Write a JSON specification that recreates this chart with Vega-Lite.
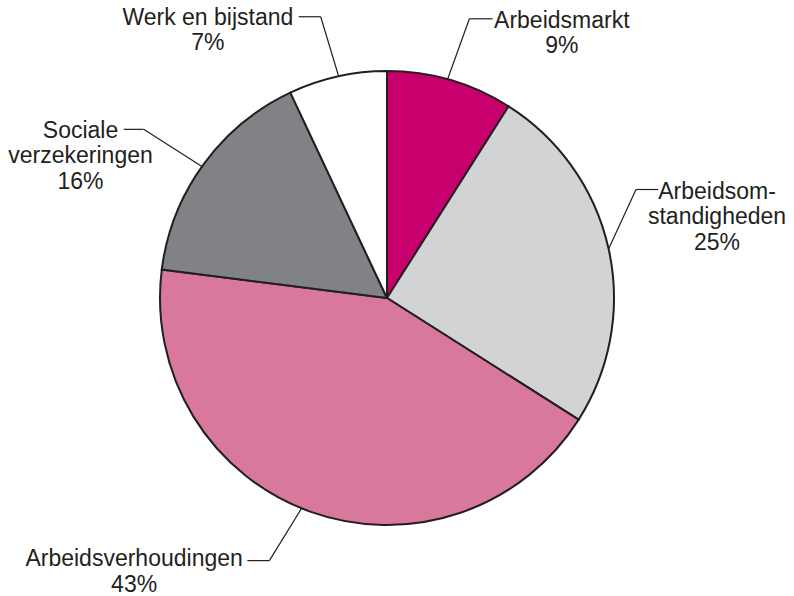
{
  "$schema": "https://vega.github.io/schema/vega-lite/v6.json",
  "width": 794,
  "height": 596,
  "autosize": "none",
  "padding": 0,
  "background": "white",
  "config": {"view": {"stroke": null}},
  "data": {
    "values": [
      {"category": "Arbeidsmarkt", "name": "Arbeidsmarkt", "share": 9, "order": 1, "lx": 0.770, "ly": 1.222, "endX": 0.465, "elbowX": 0.363, "hy": 1.230, "edgeX": 0.267, "edgeY": 0.964},
      {"category": "Arbeidsomstandigheden", "name": "Arbeidsom-\nstandigheden", "share": 25, "order": 2, "lx": 1.454, "ly": 0.467, "endX": 1.195, "elbowX": 1.097, "hy": 0.478, "edgeX": 0.976, "edgeY": 0.216},
      {"category": "Arbeidsverhoudingen", "name": "Arbeidsverhoudingen", "share": 43, "order": 3, "lx": -1.114, "ly": -1.150, "endX": -0.615, "elbowX": -0.518, "hy": -1.157, "edgeX": -0.376, "edgeY": -0.926},
      {"category": "Sociale verzekeringen", "name": "Sociale\nverzekeringen", "share": 16, "order": 4, "lx": -1.350, "ly": 0.737, "endX": -1.160, "elbowX": -1.072, "hy": 0.743, "edgeX": -0.815, "edgeY": 0.579},
      {"category": "Werk en bijstand", "name": "Werk en bijstand", "share": 7, "order": 5, "lx": -0.789, "ly": 1.234, "endX": -0.389, "elbowX": -0.292, "hy": 1.239, "edgeX": -0.213, "edgeY": 0.977}
    ]
  },
  "layer": [
    {
      "mark": {"type": "arc", "outerRadius": 227, "stroke": "#231f20", "strokeWidth": 2},
      "encoding": {
        "x": {"datum": 0, "type": "quantitative", "scale": {"domain": [-1.7048, 1.7930], "nice": false, "zero": false}, "axis": null},
        "y": {"datum": 0, "type": "quantitative", "scale": {"domain": [-1.3128, 1.3128], "nice": false, "zero": false}, "axis": null},
        "theta": {"field": "share", "type": "quantitative", "stack": true},
        "order": {"field": "order", "type": "quantitative"},
        "color": {
          "field": "category",
          "type": "nominal",
          "scale": {
            "domain": ["Arbeidsmarkt", "Arbeidsomstandigheden", "Arbeidsverhoudingen", "Sociale verzekeringen", "Werk en bijstand"],
            "range": ["#c8006e", "#d2d3d5", "#d8789d", "#808285", "#ffffff"]
          },
          "legend": null
        }
      }
    },
    {
      "mark": {"type": "rule", "color": "#231f20", "strokeWidth": 1.2},
      "encoding": {
        "x": {"field": "endX", "type": "quantitative"},
        "x2": {"field": "elbowX"},
        "y": {"field": "hy", "type": "quantitative"}
      }
    },
    {
      "mark": {"type": "rule", "color": "#231f20", "strokeWidth": 1.2},
      "encoding": {
        "x": {"field": "elbowX", "type": "quantitative"},
        "y": {"field": "hy", "type": "quantitative"},
        "x2": {"field": "edgeX"},
        "y2": {"field": "edgeY"}
      }
    },
    {
      "transform": [{"calculate": "datum.name + '\\n' + datum.share + '%'", "as": "label"}],
      "mark": {"type": "text", "font": "Liberation Sans", "fontSize": 23, "color": "#231f20", "align": "center", "baseline": "middle", "lineBreak": "\n", "lineHeight": 25.5},
      "encoding": {
        "x": {"field": "lx", "type": "quantitative"},
        "y": {"field": "ly", "type": "quantitative"},
        "text": {"field": "label"}
      }
    }
  ]
}
